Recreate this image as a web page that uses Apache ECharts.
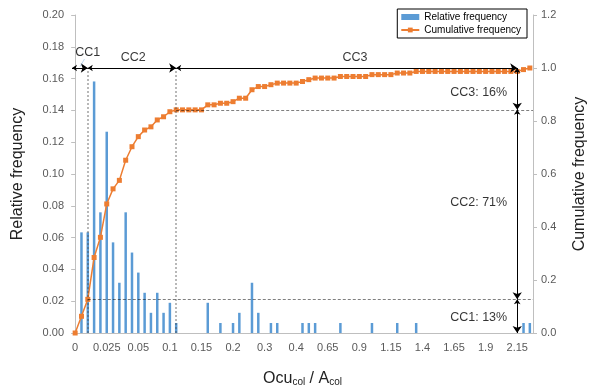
<!DOCTYPE html>
<html>
<head>
<meta charset="utf-8">
<script src="https://cdn.jsdelivr.net/npm/echarts@6/dist/echarts.min.js"></script>
<style>
  html, body { margin: 0; padding: 0; background: #fff; }
  #chart { width: 590px; height: 390px; }
</style>
</head>
<body>
<div id="chart"></div>
<script>
// x categories (Ocu_col / A_col bins)
const categories = ['0','0.005','0.01','0.015','0.02','0.025','0.03','0.035','0.04','0.045','0.05',
  '0.06','0.07','0.08','0.09','0.1','0.11','0.12','0.13','0.14','0.15','0.16','0.17','0.18','0.19','0.2',
  '0.22','0.24','0.26','0.28','0.3','0.32','0.34','0.36','0.38','0.4',
  '0.45','0.5','0.55','0.6','0.65','0.7','0.75','0.8','0.85','0.9','0.95','1','1.05','1.1','1.15',
  '1.2','1.25','1.3','1.35','1.4','1.45','1.5','1.55','1.6','1.65','1.7','1.75','1.8','1.85','1.9',
  '1.95','2','2.05','2.1','2.15','2.2','2.25']

const relFreq = [0, 0.0633, 0.0633, 0.1582, 0.0759, 0.1266, 0.0570, 0.0316, 0.0759, 0.0506, 0.0380,
  0.0253, 0.0127, 0.0253, 0.0127, 0.0190, 0.0063, 0, 0, 0, 0, 0.0190, 0, 0.0063, 0, 0.0063,
  0.0127, 0, 0.0316, 0.0127, 0, 0.0063, 0.0063, 0, 0, 0,
  0.0063, 0.0063, 0.0063, 0, 0, 0, 0.0063, 0, 0, 0, 0, 0.0063, 0, 0, 0,
  0.0063, 0, 0, 0.0063, 0, 0, 0, 0, 0, 0, 0, 0, 0, 0, 0,
  0, 0, 0, 0, 0, 0.0063, 0.0063]

const cumFreq = [0, 0.063, 0.127, 0.285, 0.361, 0.487, 0.544, 0.576, 0.652, 0.703, 0.741,
  0.766, 0.778, 0.804, 0.816, 0.835, 0.842, 0.842, 0.842, 0.842, 0.842, 0.861, 0.861, 0.867, 0.867, 0.873,
  0.886, 0.886, 0.918, 0.930, 0.930, 0.937, 0.943, 0.943, 0.943, 0.943,
  0.949, 0.956, 0.962, 0.962, 0.962, 0.962, 0.968, 0.968, 0.968, 0.968, 0.968, 0.975, 0.975, 0.975, 0.975,
  0.981, 0.981, 0.981, 0.987, 0.987, 0.987, 0.987, 0.987, 0.987, 0.987, 0.987, 0.987, 0.987, 0.987, 0.987,
  0.987, 0.987, 0.987, 0.987, 0.987, 0.994, 1.0]

// class boundaries (category index) and cumulative levels
const bounds = [2, 16]
const levels = [0.127, 0.842]
const arrowX = 70
const ccTop = [
  { name: 'CC1', value: [2.0, 1.057] },
  { name: 'CC2', value: [9.2, 1.038] },
  { name: 'CC3', value: [44.3, 1.038] },
]
const ccSide = [
  { name: 'CC3: 16%', value: [63.9, 0.909] },
  { name: 'CC2: 71%', value: [63.9, 0.491] },
  { name: 'CC1: 13%', value: [63.9, 0.057] },
]

const FONT = '"Liberation Sans", Arial, sans-serif'
const axisGrey = '#bfbfbf'
const labelGrey = '#595959'

const chart = echarts.init(document.getElementById('chart'), null, { renderer: 'canvas' })

const arrows = [
  [[-0.5, 1], [bounds[0], 1]],
  [[bounds[0], 1], [bounds[1], 1]],
  [[bounds[1], 1], [arrowX, 1]],
  [[arrowX, 1], [arrowX, levels[1]]],
  [[arrowX, levels[1]], [arrowX, levels[0]]],
  [[arrowX, levels[0]], [arrowX, 0]],
]
const vDotted = bounds.map(b => [[b, 0], [b, 1]])
const hDotted = [
  [[bounds[0], levels[0]], [72.5, levels[0]]],
  [[bounds[1], levels[1]], [72.5, levels[1]]],
]

chart.setOption({
  animation: false,
  backgroundColor: '#fff',
  textStyle: { fontFamily: FONT },
  grid: { left: 72, right: 57, top: 15, bottom: 57, outerBoundsMode: 'none', containLabel: false },
  legend: {
    data: [
      { name: 'Relative frequency', icon: 'rect' },
      { name: 'Cumulative frequency' },
    ],
    orient: 'vertical',
    right: 63,
    top: 9,
    itemWidth: 18,
    itemHeight: 6,
    itemGap: 3,
    padding: [3, 6, 3, 3],
    borderColor: '#000',
    borderWidth: 1,
    textStyle: { fontSize: 10, color: '#000', fontFamily: FONT },
  },
  xAxis: [
    {
      type: 'category',
      data: categories,
      boundaryGap: true,
      name: 'Ocu{s|col} / A{s|col}',
      nameLocation: 'middle',
      nameGap: 38,
      nameTextStyle: {
        fontSize: 16, color: '#222', fontFamily: FONT,
        rich: { s: { fontSize: 10, verticalAlign: 'bottom', padding: [5, 0, 0, 0], color: '#222' } },
      },
      axisLine: { lineStyle: { color: axisGrey } },
      axisTick: { interval: 0, length: 4, lineStyle: { color: axisGrey } },
      axisLabel: { interval: 4, fontSize: 11, color: labelGrey, margin: 9 },
    },
    { type: 'value', min: -0.5, max: 72.5, show: false },
  ],
  yAxis: [
    {
      type: 'value',
      min: 0, max: 0.2, interval: 0.02,
      name: 'Relative frequency',
      nameLocation: 'middle',
      nameGap: 46,
      nameTextStyle: { fontSize: 16, color: '#222', fontFamily: FONT },
      axisLine: { show: true, lineStyle: { color: axisGrey } },
      axisTick: { show: true, length: 4, lineStyle: { color: axisGrey } },
      axisLabel: { fontSize: 11, color: labelGrey, formatter: v => v.toFixed(2) },
      splitLine: { show: false },
    },
    {
      type: 'value',
      min: 0, max: 1.2, interval: 0.2,
      name: 'Cumulative frequency',
      nameLocation: 'middle',
      nameGap: 39,
      nameRotate: 90,
      nameTextStyle: { fontSize: 16, color: '#222', fontFamily: FONT },
      axisLine: { show: true, lineStyle: { color: axisGrey } },
      axisTick: { show: true, length: 4, lineStyle: { color: axisGrey } },
      axisLabel: { fontSize: 11, color: labelGrey, formatter: v => v.toFixed(1) },
      splitLine: { show: false },
    },
  ],
  series: [
    {
      name: 'Relative frequency',
      type: 'bar',
      data: relFreq,
      barWidth: 2.5,
      itemStyle: { color: '#5b9bd5' },
      z: 2,
    },
    {
      name: 'Cumulative frequency',
      type: 'line',
      yAxisIndex: 1,
      data: cumFreq,
      symbol: 'rect',
      symbolSize: 5,
      showAllSymbol: true,
      lineStyle: { color: '#ed7d31', width: 1.5 },
      itemStyle: { color: '#ed7d31' },
      z: 3,
    },
    {
      type: 'lines',
      coordinateSystem: 'cartesian2d',
      xAxisIndex: 1, yAxisIndex: 1,
      silent: true,
      symbol: 'none',
      lineStyle: { color: '#444', width: 1.5, type: [2, 2] },
      data: vDotted.map(c => ({ coords: c })),
      z: 4,
    },
    {
      type: 'lines',
      coordinateSystem: 'cartesian2d',
      xAxisIndex: 1, yAxisIndex: 1,
      silent: true,
      symbol: 'none',
      lineStyle: { color: '#000', width: 1, type: [3, 2] },
      data: hDotted.map(c => ({ coords: c })),
      z: 4,
    },
    {
      type: 'lines',
      coordinateSystem: 'cartesian2d',
      xAxisIndex: 1, yAxisIndex: 1,
      silent: true,
      symbol: ['arrow', 'arrow'],
      symbolSize: [5, 7],
      lineStyle: { color: '#000', width: 1, opacity: 1 },
      data: arrows.map(c => ({ coords: c })),
      z: 5,
    },
    {
      type: 'lines',
      coordinateSystem: 'cartesian2d',
      xAxisIndex: 1, yAxisIndex: 1,
      silent: true,
      symbol: 'none',
      lineStyle: { color: '#7fb2e0', width: 1 },
      data: [{ coords: [[1.48, 1.034], [0.77, 1.005]] }],
      z: 5,
    },
    {
      type: 'scatter',
      xAxisIndex: 1, yAxisIndex: 1,
      silent: true,
      symbolSize: 0,
      data: ccTop.concat(ccSide),
      label: {
        show: true,
        position: 'inside',
        formatter: p => p.name,
        fontSize: 12.5,
        color: '#000',
        fontFamily: FONT,
      },
      z: 6,
    },
  ],
})
</script>
</body>
</html>
